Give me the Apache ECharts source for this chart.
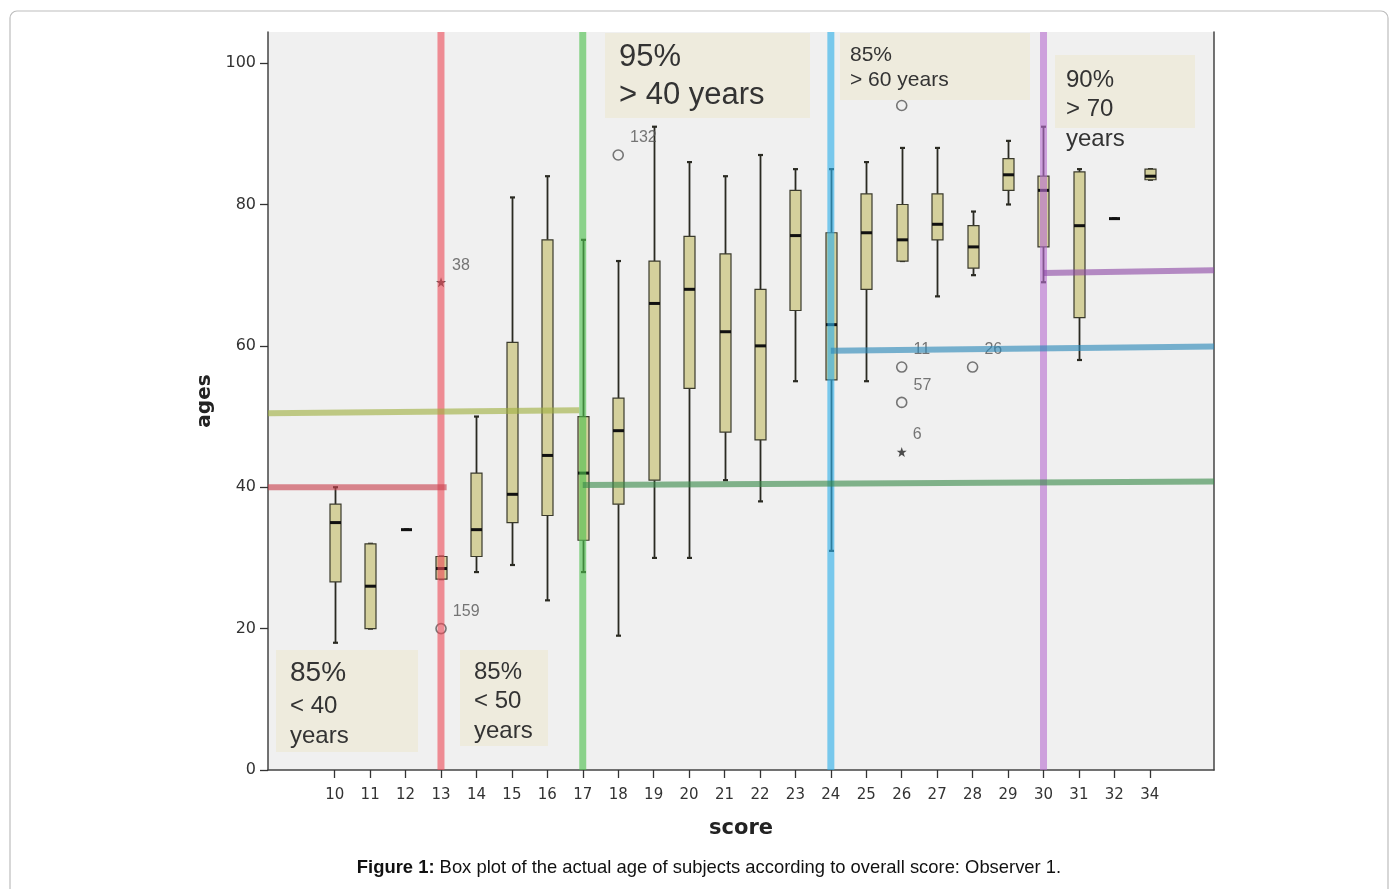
<!DOCTYPE html>
<html lang="en">
<head>
    <meta charset="UTF-8">
    <title>Box plot of age by score</title>
    <style>
        html, body { margin: 0; padding: 0; background: #fff; }
        #chart-container { width: 1398px; height: 889px; }
    </style>
</head>
<body>
    <div id="chart-container"></div>
    <script src="https://cdn.jsdelivr.net/npm/echarts@6/dist/echarts.min.js"></script>
    <script>
      // scores on the x axis (33 is missing in the source)
      const scores = ['10', '11', '12', '13', '14', '15', '16', '17', '18', '19', '20', '21',
                      '22', '23', '24', '25', '26', '27', '28', '29', '30', '31', '32', '34'];
      // five-number summaries
      const whiskerLow  = [18, 20, 34, 27, 28, 29, 24, 28, 19, 30, 30, 41, 38, 55, 31, 55, 72, 67, 70, 80, 69, 58, 78, 83.5];
      const quart1      = [26.6, 20, 34, 27, 30.2, 35, 36, 32.5, 37.6, 41, 54, 47.8, 46.7, 65, 55.2, 68, 72, 75, 71, 82, 74, 64, 78, 83.5];
      const medians     = [35, 26, 34, 28.5, 34, 39, 44.5, 42, 48, 66, 68, 62, 60, 75.6, 63, 76, 75, 77.2, 74, 84.2, 82, 77, 78, 84];
      const quart3      = [37.6, 32, 34, 30.2, 42, 60.5, 75, 50, 52.6, 72, 75.5, 73, 68, 82, 76, 81.5, 80, 81.5, 77, 86.5, 84, 84.6, 78, 85];
      const whiskerHigh = [40, 32, 34, 30.2, 50, 81, 84, 75, 72, 91, 86, 84, 87, 85, 85, 86, 88, 88, 79, 89, 91, 85, 78, 85];

      // outliers (circles) and extremes (stars): [score, age, case id]
      const outliers = [['13', 20, '159'], ['18', 87, '132'], ['26', 94, ''], ['26', 57, '11'], ['26', 52, '57'], ['28', 57, '26']];
      const extremes = [['13', 69, '38'], ['26', 45, '6']];

      // y axis ticks
      const ageTicks = [0, 20, 40, 60, 80, 100];

      // drawn cut-offs: vertical at a score, horizontal at an age
      const cutScores = ['13', '17', '24', '30'];
      // horizontal bands: [x from, x to] in score-index units, [age at start, age at end]
      const bandSpans = [[-1.88, 3.16], [-1.88, 6.9], [7, 24.81], [14, 24.81], [20, 24.81]];
      const bandAges  = [[40, 40], [50.45, 50.9], [40.3, 40.8], [59.3, 59.9], [70.3, 70.7]];

      const vColors = ['#ee4d5a', '#4cc04c', '#2fb0ea', '#b870d0'];
      const hColors = ['#c8404e', '#a0b040', '#3a8a4a', '#2a88b8', '#8e4aa6'];

      const yTop = 104.4;

      var dom = document.getElementById('chart-container');
      var myChart = echarts.init(dom, null, { renderer: 'canvas' });

      const boxData = scores.map(function (s, i) {
        return [i, whiskerLow[i], quart1[i], medians[i], quart3[i], whiskerHigh[i]];
      });

      function renderBox(params, api) {
        const i = api.value(0);
        const p = [1, 2, 3, 4, 5].map(function (k) { return api.coord([i, api.value(k)]); });
        const cx = Math.round(p[0][0]) + 0.5;
        const half = 5.5, cap = 2.5;
        const dark = '#2a2a22';
        return {
          type: 'group',
          children: [
            { type: 'line', shape: { x1: cx, y1: p[0][1], x2: cx, y2: p[1][1] }, style: { stroke: dark, lineWidth: 1.8 } },
            { type: 'line', shape: { x1: cx, y1: p[3][1], x2: cx, y2: p[4][1] }, style: { stroke: dark, lineWidth: 1.8 } },
            { type: 'line', shape: { x1: cx - cap, y1: p[0][1], x2: cx + cap, y2: p[0][1] }, style: { stroke: dark, lineWidth: 2.2 } },
            { type: 'line', shape: { x1: cx - cap, y1: p[4][1], x2: cx + cap, y2: p[4][1] }, style: { stroke: dark, lineWidth: 2.2 } },
            { type: 'rect', shape: { x: cx - half, y: p[3][1], width: half * 2, height: p[1][1] - p[3][1] },
              style: { fill: '#d4d09c', stroke: '#3a3a2c', lineWidth: 1.2 } },
            { type: 'line', shape: { x1: cx - half, y1: p[2][1], x2: cx + half, y2: p[2][1] }, style: { stroke: '#111', lineWidth: 3 } }
          ]
        };
      }

      const vSeries = cutScores.map(function (s, k) {
        const xi = scores.indexOf(s);
        return {
          type: 'line', xAxisIndex: 0, yAxisIndex: 0, z: 6, silent: true,
          symbol: 'none', animation: false,
          lineStyle: { color: vColors[k], width: 7, opacity: 0.62, cap: 'butt' },
          data: [[xi, 0], [xi, yTop]]
        };
      });
      const hSeries = bandSpans.map(function (span, k) {
        return {
          type: 'line', xAxisIndex: 0, yAxisIndex: 0, z: 6, silent: true,
          symbol: 'none', animation: false,
          lineStyle: { color: hColors[k], width: 6, opacity: 0.62, cap: 'butt' },
          data: [[span[0], bandAges[k][0]], [span[1], bandAges[k][1]]]
        };
      });

      const idLabel = {
        show: true, position: 'right', distance: 2, offset: [4, -17],
        color: '#555', fontSize: 16, fontFamily: 'Liberation Sans',
        formatter: function (p) { return p.value[2]; }
      };

      const textFont = 'Liberation Sans';
      function noteText(x, y, txt, size) {
        return { type: 'text', z: 20, x: x, y: y,
          style: { text: txt, fill: '#333', font: size + 'px "' + textFont + '"', textVerticalAlign: 'middle' } };
      }
      function noteBox(x, y, w, h) {
        return { type: 'rect', z: 1, shape: { x: x, y: y, width: w, height: h }, style: { fill: '#eeebdd' } };
      }

      var option = {
        backgroundColor: '#ffffff',
        animation: false,
        grid: [
          { left: 268, right: 184, top: 32, bottom: 119, show: true, backgroundColor: '#f0f0f0', borderWidth: 0 },
          { left: 317, right: 230.5, top: 32, bottom: 119 }
        ],
        xAxis: [
          { type: 'value', gridIndex: 0, min: -1.88, max: 24.81,
            axisLine: { show: true, onZero: false, lineStyle: { color: '#444', width: 1.5 } },
            axisTick: { show: false }, axisLabel: { show: false }, splitLine: { show: false },
            name: 'score', nameLocation: 'middle', nameGap: 48,
            nameTextStyle: { fontFamily: 'DejaVu Sans', fontWeight: 'bold', fontSize: 21, color: '#222' } },
          { type: 'category', gridIndex: 1, data: scores, boundaryGap: true,
            axisLine: { show: false, onZero: false },
            axisTick: { show: true, alignWithLabel: true, interval: 0, length: 8, lineStyle: { color: '#333', width: 1.3 } },
            axisLabel: { interval: 0, margin: 18, color: '#333', fontSize: 15, fontFamily: 'DejaVu Sans' },
            splitLine: { show: false } }
        ],
        yAxis: [
          { type: 'value', gridIndex: 0, min: 0, max: yTop, position: 'left',
            axisLine: { show: true, onZero: false, lineStyle: { color: '#444', width: 1.5 } },
            axisTick: { show: true, length: 8, customValues: ageTicks, lineStyle: { color: '#333', width: 1.3 } },
            axisLabel: { customValues: ageTicks, margin: 12, color: '#333', fontSize: 16, fontFamily: 'DejaVu Sans' },
            splitLine: { show: false },
            name: 'ages', nameLocation: 'middle', nameGap: 50, nameRotate: 90,
            nameTextStyle: { fontFamily: 'DejaVu Sans', fontWeight: 'bold', fontSize: 20, color: '#222' } },
          { type: 'value', gridIndex: 0, min: 0, max: yTop, position: 'right',
            axisLine: { show: true, onZero: false, lineStyle: { color: '#444', width: 1.5 } },
            axisTick: { show: false }, axisLabel: { show: false }, splitLine: { show: false } },
          { type: 'value', gridIndex: 1, min: 0, max: yTop, show: false }
        ],
        graphic: [
          { type: 'rect', z: 0, shape: { x: 10, y: 11, width: 1378, height: 900, r: 7 },
            style: { fill: 'none', stroke: '#bdbdbd', lineWidth: 1.2 } },
          noteBox(276, 650, 142, 102),
          noteBox(460, 650, 88, 96),
          noteBox(605, 33, 205, 85),
          noteBox(840, 33, 190, 67),
          noteBox(1055, 55, 140, 73),
          noteText(290, 673, '85%', 28),
          noteText(290, 706, '< 40', 24),
          noteText(290, 736, 'years', 24),
          noteText(474, 672, '85%', 24),
          noteText(474, 701, '< 50', 24),
          noteText(474, 731, 'years', 24),
          noteText(619, 57, '95%', 31),
          noteText(619, 95, '> 40 years', 31),
          noteText(850, 55, '85%', 21),
          noteText(850, 80, '> 60 years', 21),
          noteText(1066, 80, '90%', 24),
          noteText(1066, 109, '> 70', 24),
          noteText(1066, 139, 'years', 24),
          { type: 'text', z: 20, x: 709, y: 868,
            style: {
              text: '{b|Figure 1:} Box plot of the actual age of subjects according to overall score: Observer 1.',
              rich: { b: { fontWeight: 'bold', fontSize: 18.4, fontFamily: 'Liberation Sans', fill: '#111' } },
              font: '18.4px "Liberation Sans"', fill: '#111',
              textAlign: 'center', textVerticalAlign: 'middle'
            } }
        ],
        series: [
          {
            type: 'custom', xAxisIndex: 1, yAxisIndex: 2, z: 3,
            renderItem: renderBox,
            encode: { x: 0, y: [1, 2, 3, 4, 5] },
            data: boxData
          },
          {
            type: 'scatter', xAxisIndex: 1, yAxisIndex: 2, z: 4,
            symbol: 'circle', symbolSize: 10,
            itemStyle: { color: 'rgba(0,0,0,0)', borderColor: '#555', borderWidth: 1.6 },
            label: idLabel,
            data: outliers
          },
          {
            type: 'scatter', xAxisIndex: 1, yAxisIndex: 2, z: 4,
            symbol: 'path://M0,-10L2.35,-3.24L9.51,-3.09L3.8,1.24L5.88,8.09L0,4L-5.88,8.09L-3.8,1.24L-9.51,-3.09L-2.35,-3.24Z',
            symbolSize: 10,
            itemStyle: { color: '#222' },
            label: idLabel,
            data: extremes
          }
        ].concat(vSeries, hSeries)
      };

      myChart.setOption(option);
      window.addEventListener('resize', myChart.resize);
    </script>
</body>
</html>
